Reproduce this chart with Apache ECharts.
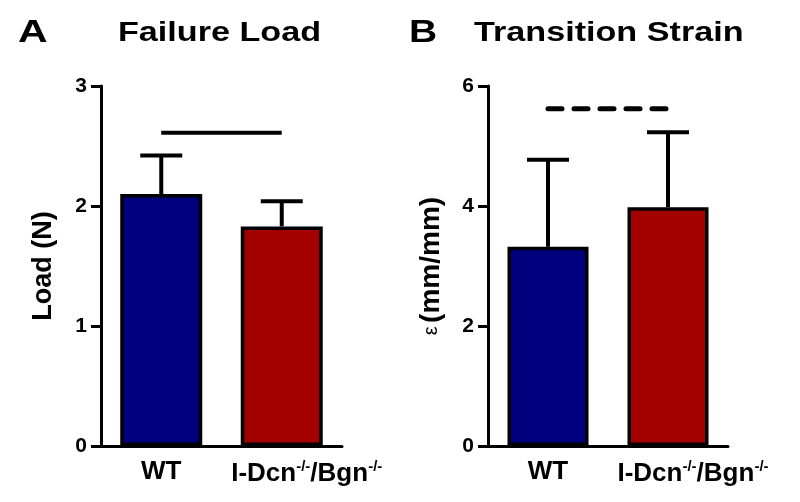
<!DOCTYPE html>
<html>
<head>
<meta charset="utf-8">
<script src="https://cdn.jsdelivr.net/npm/echarts@6/dist/echarts.min.js"></script>
<style>
  html, body { margin: 0; padding: 0; background: #fff; }
  #main { width: 800px; height: 502px; }
</style>
</head>
<body>
<div id="main"></div>
<script>
// groups on the x axis
const categories = ['WT', 'I-Dcn'];
const barColors = ['#00007f', '#a30000'];

// A: failure load (N), mean and SD
const loadMean = [2.10, 1.83];
const loadSD = [0.32, 0.21];
const loadBracket = [2.61, 2.61];

// B: transition strain (mm/mm), mean and SD
const strainMean = [3.32, 3.98];
const strainSD = [1.45, 1.25];
const strainBracket = [5.62, 5.62];

const FONT = '"Liberation Sans", Arial, sans-serif';

const chart = echarts.init(document.getElementById('main'));

// bars coloured per group
const barData = (vals) => vals.map((v, i) => ({
    value: v,
    itemStyle: { color: barColors[i] }
}));

// one-sided error bar (mean -> mean + SD) with a cap
const errorSeries = (gridIdx, mean, sd) => ({
    type: 'custom',
    xAxisIndex: gridIdx,
    yAxisIndex: gridIdx,
    z: 1,
    data: mean.map((m, i) => [i, m, m + sd[i]]),
    renderItem: (params, api) => {
        const lo = api.coord([api.value(0), api.value(1)]);
        const hi = api.coord([api.value(0), api.value(2)]);
        const half = 21;
        const style = { stroke: '#000', lineWidth: 4 };
        return {
            type: 'group',
            children: [
                { type: 'line', shape: { x1: lo[0], y1: lo[1], x2: hi[0], y2: hi[1] }, style },
                { type: 'line', shape: { x1: hi[0] - half, y1: hi[1], x2: hi[0] + half, y2: hi[1] }, style }
            ]
        };
    }
});

const xAxisCommon = (gridIdx) => ({
    type: 'category',
    gridIndex: gridIdx,
    data: categories,
    axisLine: { lineStyle: { color: '#000', width: 3 } },
    axisTick: { alignWithLabel: true, length: 8, lineStyle: { color: '#000', width: 3 } },
    axisLabel: {
        interval: 0,
        margin: 13,
        // the knockout label sits a bit right of its tick in the original
        formatter: (v) => v === 'WT' ? '{b|WT}' : '{sp|}{b|I-Dcn}{s|-/-}{b|/Bgn}{s|-/-}',
        rich: {
            sp: { width: 50 },
            b: { fontFamily: FONT, fontWeight: 'bold', fontSize: 26, color: '#000' },
            s: { fontFamily: FONT, fontWeight: 'bold', fontSize: 15, color: '#000', verticalAlign: 'top', padding: [0, 0, 14, 0] }
        }
    }
});

const yAxisCommon = (gridIdx, max, interval) => ({
    type: 'value',
    gridIndex: gridIdx,
    min: 0,
    max: max,
    interval: interval,
    splitLine: { show: false },
    axisLine: { show: true, lineStyle: { color: '#000', width: 3 } },
    axisTick: { show: true, length: 10, lineStyle: { color: '#000', width: 3 } },
    axisLabel: { margin: 14, fontFamily: FONT, fontWeight: 'bold', fontSize: 21, color: '#000' },
    nameLocation: 'middle',
    nameRotate: 90
});

// panel letters and titles, drawn a little wider like the original lettering
const titleText = (txt, x, size, sx) => ({
    type: 'text',
    x: x,
    y: 33,
    scaleX: sx,
    style: {
        text: txt,
        fill: '#000',
        font: 'bold ' + size + 'px ' + FONT,
        align: 'left',
        verticalAlign: 'middle'
    }
});

const option = {
    backgroundColor: '#fff',
    animation: false,
    graphic: [
        titleText('A', 18, 32, 1.28),
        titleText('Failure Load', 118, 28, 1.22),
        titleText('B', 409, 32, 1.22),
        titleText('Transition Strain', 474, 28, 1.22)
    ],
    grid: [
        { left: 101, right: 458, top: 86, bottom: 56 },
        { left: 488, right: 72, top: 86, bottom: 56 }
    ],
    xAxis: [xAxisCommon(0), xAxisCommon(1)],
    yAxis: [
        Object.assign(yAxisCommon(0, 3, 1), {
            name: 'Load (N)',
            nameGap: 44,
            nameTextStyle: { fontFamily: FONT, fontWeight: 'bold', fontSize: 27, color: '#000' }
        }),
        Object.assign(yAxisCommon(1, 6, 2), {
            name: '{e|ε} {b|(mm/mm)}',
            nameGap: 43,
            nameTextStyle: {
                rich: {
                    e: { fontFamily: FONT, fontSize: 20, color: '#000' },
                    b: { fontFamily: FONT, fontWeight: 'bold', fontSize: 28, color: '#000' }
                }
            }
        })
    ],
    series: [
        {
            type: 'bar', xAxisIndex: 0, yAxisIndex: 0, z: 2,
            barWidth: 82,
            data: barData(loadMean),
            itemStyle: { borderColor: '#000', borderWidth: 3.5 }
        },
        errorSeries(0, loadMean, loadSD),
        {
            type: 'line', xAxisIndex: 0, yAxisIndex: 0,
            data: loadBracket, symbol: 'none',
            lineStyle: { color: '#000', width: 4 }
        },
        {
            type: 'bar', xAxisIndex: 1, yAxisIndex: 1, z: 2,
            barWidth: 81,
            data: barData(strainMean),
            itemStyle: { borderColor: '#000', borderWidth: 3.5 }
        },
        errorSeries(1, strainMean, strainSD),
        {
            type: 'line', xAxisIndex: 1, yAxisIndex: 1,
            data: strainBracket, symbol: 'none',
            lineStyle: { color: '#000', width: 5, type: [14, 12], cap: 'round' }
        }
    ]
};

chart.setOption(option);
</script>
</body>
</html>
